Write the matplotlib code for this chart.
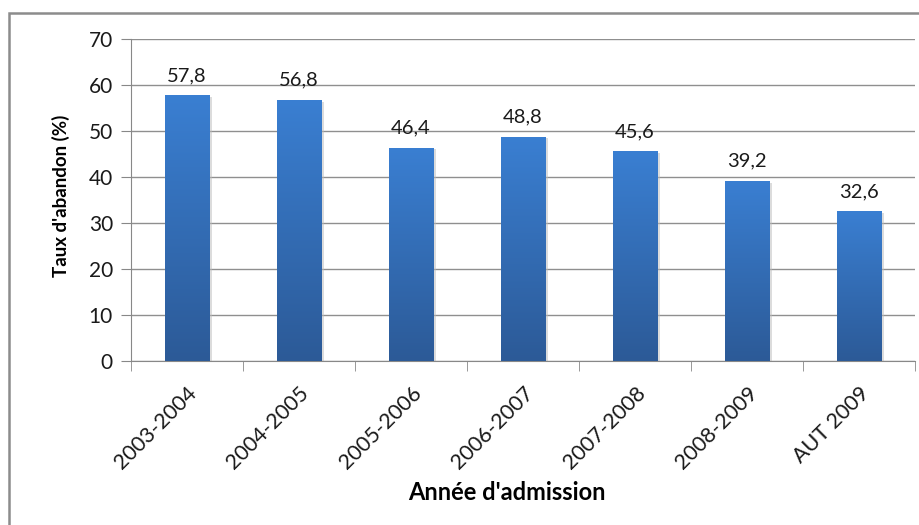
import numpy as np
import matplotlib.pyplot as plt
from matplotlib.patches import Rectangle
from matplotlib.colors import LinearSegmentedColormap
from matplotlib.transforms import ScaledTranslation

plt.rcParams['font.family'] = ['Lato', 'DejaVu Sans']

# --- données ---
annees = ['2003-2004', '2004-2005', '2005-2006', '2006-2007', '2007-2008', '2008-2009', 'AUT 2009']
taux = [57.8, 56.8, 46.4, 48.8, 45.6, 39.2, 32.6]
etiquettes = ['57,8', '56,8', '46,4', '48,8', '45,6', '39,2', '32,6']
yticks = [0, 10, 20, 30, 40, 50, 60, 70]

W, H = 920, 525
fig = plt.figure(figsize=(W / 100, H / 100), dpi=100)
ax = fig.add_axes([131 / W, 1 - 361 / H, (915 - 131) / W, (361 - 39) / H])

# cadre extérieur (coupé à droite et en bas)
fig.patches.append(Rectangle((9 / W, -0.05), 1.0, 1 - 13 / H + 0.05, transform=fig.transFigure,
                             fill=False, edgecolor='#8c8c8c', lw=1.8, zorder=0))

x = np.arange(len(annees))
largeur = 0.4
bars = ax.bar(x, taux, width=largeur, color='none', zorder=3)

# dégradé vertical dans chaque barre
cmap = LinearSegmentedColormap.from_list('bleu', ['#2c5a97', '#3a7fd2'])
grad = np.linspace(0, 1, 256).reshape(-1, 1)
for b in bars:
    bx, bw, bh = b.get_x(), b.get_width(), b.get_height()
    # ombre légère
    ax.add_patch(Rectangle((bx + 0.02, -0.4), bw, bh, color='#bbbbbb', alpha=0.5, zorder=2, lw=0))
    im = ax.imshow(grad, cmap=cmap, aspect='auto', origin='lower',
                   extent=(bx, bx + bw, 0, bh), zorder=3)
    im.set_clip_path(b)

for xi, v, lab in zip(x, taux, etiquettes):
    ax.text(xi, v + 2.4, lab, ha='center', va='bottom', fontsize=14.5, color='#1a1a1a')

ax.set_xlim(-0.5, len(annees) - 0.5)
ax.set_ylim(0, 70)
ax.set_yticks(yticks)
ax.set_yticklabels([str(t) for t in yticks], fontsize=15, color='#1a1a1a')
ax.set_xticks(x)
ax.set_xticklabels(annees, rotation=45, ha='right', rotation_mode='anchor', fontsize=15.5,
                   color='#1a1a1a')
decal = ScaledTranslation(-5 / 100, 0, fig.dpi_scale_trans)
for t in ax.get_xticklabels():
    t.set_transform(t.get_transform() + decal)
ax.set_xticks(np.arange(-0.5, len(annees)), minor=True)
ax.tick_params(axis='x', which='major', length=0, pad=16)
ax.tick_params(axis='x', which='minor', length=7, color='#888888', direction='out')
ax.tick_params(axis='y', length=7, color='#888888', direction='out', pad=6)

ax.grid(axis='y', color='#8f8f8f', lw=1.0, zorder=0)
ax.set_axisbelow(True)
for s in ['top', 'right']:
    ax.spines[s].set_visible(False)
ax.spines['left'].set_color('#888888')
ax.spines['bottom'].set_color('#888888')

fig.text(61 / W, 1 - 196 / H, "Taux d'abandon (%)", rotation=90, ha='center', va='center',
         fontsize=13.5, fontweight='bold')
fig.text(507 / W, 1 - 493 / H, "Année d'admission", ha='center', va='center',
         fontsize=17, fontweight='bold')

fig.savefig('out.png', dpi=100)
